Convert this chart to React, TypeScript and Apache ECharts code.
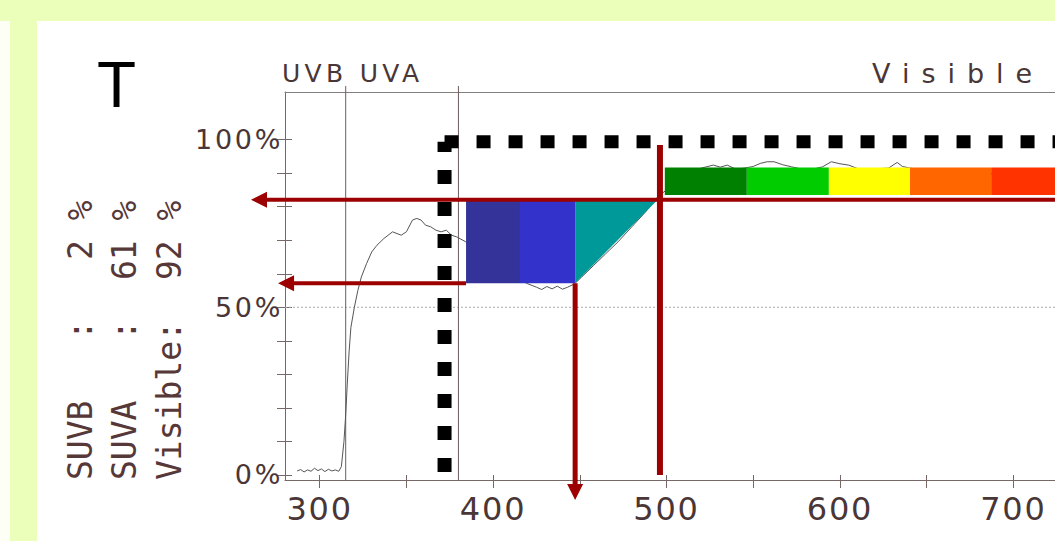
import React, { useEffect, useRef } from 'react';
import * as echarts from 'echarts';

// ---------- data ----------
const spectrum: [number, number][] = [
  [287, 1.2], [289, 1.6], [291, 0.9], [293, 1.5], [295, 1.1], [297, 2.0], [299, 1.3], [301, 1.8],
  [303, 1.0], [305, 1.7], [307, 1.2], [309, 1.5], [311, 1.1], [312.5, 2.5], [314, 10], [315, 18],
  [316, 28], [317, 37], [318, 44], [320, 50], [322, 55], [324, 59], [327, 63], [330, 66.5],
  [333, 68.5], [337, 70.5], [342, 72.5], [347, 71.5], [350, 72.5], [353.5, 76], [356, 76.5],
  [358.5, 76], [361, 74.5], [364, 74], [367, 73], [370, 72.5], [373, 73], [376, 71.5], [379, 71],
  [384, 69.6], [390, 67], [396, 64.5], [402, 62], [408, 60], [414, 58.5], [420, 57], [425, 56],
  [428, 55.3], [431, 56.2], [434, 55.5], [437, 56.3], [440, 55.4], [443, 56], [447, 57], [451, 59],
  [458, 62.5], [465, 66], [472, 69.5], [480, 74], [488, 78.5], [495, 83], [500, 85], [505, 87.5],
  [510, 89.5], [515, 90.5], [520, 91.5], [527, 92.4], [531, 91.8], [535, 92.4], [540, 91.2],
  [545, 91.5], [550, 92], [554, 92.9], [558, 93.4], [562, 93.4], [567, 92.5], [572, 91.9],
  [580, 91], [586, 91.4], [590, 91.9], [595, 93.4], [600, 92.8], [605, 92.4], [612, 91],
  [620, 91.3], [628, 91.5], [633, 93.2], [636, 92], [645, 91], [660, 90.5], [680, 90],
  [700, 89.5], [724, 89],
];

const xMin = 280;
const xMax = 724;
const yMin = -1.5;
const yMax = 114.2;
const xTickValues = [300, 350, 400, 450, 500, 550, 600, 650, 700];
const xLabelValues = [300, 400, 500, 600, 700];
const yTickValues = [0, 10, 20, 30, 40, 50, 60, 70, 80, 90, 100];
const yLabelValues = [0, 50, 100];
const gridLineValue = 50;

const bandBoundaries = [315, 380];
const bandBoundaryTop = 116;
const bandTitles = ['UVB UVA', 'Visible'];

// UV blocks: wavelength edges, transmission range
const uvBlockEdges = [384.4, 415.5, 447.3, 494.2];
const uvBlockRange = [57.2, 81.7];
// visible spectrum strip
const visBlockEdges = [499, 546.3, 593.6, 640.4, 687.2, 724];
const visBlockRange = [83.5, 91.7];

// black dotted filter outline
const filterCutoff = 372;
const filterTop = 99.4;
const filterBottom = 0.9;

// red arrows: from [nm, %] to [nm, %]
const arrowFrom: [number, number][] = [[724, 82.1], [384.4, 57.2], [447.3, 57.2], [496.2, 98.4]];
const arrowTo: [number, number][] = [[260.4, 82.1], [276, 57.2], [447.3, -7.45], [496.2, 0]];

const summaryNames = ['SUVB', 'SUVA', 'Visible'];
const summaryValues = [2, 61, 92];
const titleLetter = 'T';

// ---------- styles ----------
const AX = '#776868';
const LBL = '#4a3636';
const RED = '#9c0000';
const uvBlockColors = ['#333399', '#3333CC', '#009999'];
const visBlockColors = ['#008000', '#00CC00', '#FFFF00', '#FF6600', '#FF3300'];
const arrowWidths = [4, 4, 5, 6];
const arrowHasHead = [true, true, true, false];
const SANS = '"Liberation Sans", Arial, sans-serif';
const DJV = '"DejaVu Sans", sans-serif';
const MONO = '"DejaVu Sans Mono", monospace';

const spacingMap: Record<string, number> = {
  'UVB UVA': 4.3,
  'Visible': 12,
  '100%': 2.7,
  '50%': 2.7,
  '0%': 2.7,
  '300': 1.8,
  '400': 1.8,
  '500': 1.8,
  '600': 1.8,
  '700': 1.8,
};

function buildOption(): any {
  const uvBlocks = uvBlockColors.map((_, i) => [uvBlockEdges[i], uvBlockEdges[i + 1], uvBlockRange[0], uvBlockRange[1]]);
  const visBlocks = visBlockColors.map((_, i) => [visBlockEdges[i], visBlockEdges[i + 1], visBlockRange[0], visBlockRange[1]]);
  const arrows = arrowFrom.map((f, i) => [f[0], f[1], arrowTo[i][0], arrowTo[i][1]]);

  const rotated: any[] = [];
  const colX = [80.5, 124.5, 169.5];
  const baseY = 480;
  const adv = 20;
  summaryNames.forEach((name, i) => {
    const common = { rotation: Math.PI / 2, z: 10, silent: true };
    const st = (text: string) => ({
      text, font: `33px ${MONO}`, fill: '#573838',
      textAlign: 'left', align: 'left', textVerticalAlign: 'middle', verticalAlign: 'middle',
    });
    if (name.length >= 7) {
      rotated.push({ type: 'text', x: colX[i], y: baseY, ...common, style: st(name + ':') });
    } else {
      rotated.push({ type: 'text', x: colX[i], y: baseY, ...common, style: st(name) });
      rotated.push({ type: 'text', x: colX[i], y: baseY - 7 * adv, ...common, style: st(':') });
    }
    const v = String(summaryValues[i]);
    const idx = 12 - v.length;
    rotated.push({ type: 'text', x: colX[i], y: baseY - idx * adv, ...common, style: st(v + ' %') });
  });

  return {
    animation: false,
    backgroundColor: '#ECFFBA',
    grid: { left: 285, top: 92, right: 0, bottom: 61, containLabel: false },
    xAxis: [
      {
        type: 'value', min: xMin, max: xMax, position: 'bottom',
        axisLine: { show: true, onZero: false, lineStyle: { color: AX, width: 1 } },
        axisTick: { show: true, customValues: xTickValues, length: 8, lineStyle: { color: AX, width: 1 } },
        axisLabel: { show: true, customValues: xLabelValues, margin: 13, fontSize: 32, fontFamily: DJV, color: LBL },
        splitLine: { show: false },
      },
      {
        type: 'value', min: xMin, max: xMax, position: 'top',
        axisLine: { show: true, onZero: false, lineStyle: { color: '#858080', width: 1 } },
        axisTick: { show: false }, axisLabel: { show: false }, splitLine: { show: false },
      },
      {
        type: 'value', min: xMin, max: xMax, position: 'bottom',
        axisLine: { show: false, onZero: false },
        axisTick: { show: true, inside: true, customValues: xTickValues, length: 5, lineStyle: { color: AX, width: 1 } },
        axisLabel: { show: false }, splitLine: { show: false },
      },
    ],
    yAxis: [
      {
        type: 'value', min: yMin, max: yMax, position: 'left',
        axisLine: { show: true, onZero: false, lineStyle: { color: AX, width: 1 } },
        axisTick: { show: true, customValues: yTickValues, length: 8, lineStyle: { color: AX, width: 1 } },
        axisLabel: { show: true, customValues: yLabelValues, formatter: '{value}%', margin: 2, fontSize: 27, fontFamily: DJV, color: LBL },
        splitLine: { show: false },
      },
      {
        type: 'value', min: yMin, max: yMax, position: 'left',
        axisLine: { show: false, onZero: false },
        axisTick: { show: true, inside: true, customValues: yTickValues, length: 7, lineStyle: { color: AX, width: 1 } },
        axisLabel: { show: false }, splitLine: { show: false },
      },
    ],
    graphic: [
      { type: 'rect', z: -10, silent: true, shape: { x: 0, y: 21, width: 10, height: 520 }, style: { fill: '#FDFFF7' } },
      { type: 'rect', z: -10, silent: true, shape: { x: 37, y: 21, width: 1018, height: 520 }, style: { fill: '#FFFFFF' } },
      {
        type: 'text', x: 116.5, y: 85, z: 10, silent: true,
        style: { text: titleLetter, font: `64px ${SANS}`, fill: '#000', textAlign: 'center', align: 'center', textVerticalAlign: 'middle', verticalAlign: 'middle' },
      },
      {
        type: 'text', x: 282, y: 73.5, z: 10, silent: true,
        style: { text: bandTitles[0], font: `25px ${DJV}`, fill: LBL, textAlign: 'left', align: 'left', textVerticalAlign: 'middle', verticalAlign: 'middle' },
      },
      {
        type: 'text', x: 872, y: 73, z: 10, silent: true,
        style: { text: bandTitles[1], font: `27px ${DJV}`, fill: LBL, textAlign: 'left', align: 'left', textVerticalAlign: 'middle', verticalAlign: 'middle' },
      },
      ...rotated,
    ],
    series: [
      {
        type: 'line', name: 'grid50', silent: true, symbol: 'none', z: 1,
        data: [[xMin, gridLineValue], [xMax, gridLineValue]],
        lineStyle: { color: '#aaa', width: 1, type: [2, 2] },
      },
      ...bandBoundaries.map((b) => ({
        type: 'line', silent: true, symbol: 'none', z: 1, clip: false,
        data: [[b, yMin], [b, bandBoundaryTop]],
        lineStyle: { color: '#6d5d5d', width: 1 },
      })),
      {
        type: 'line', name: 'transmission', silent: true, symbol: 'none', z: 2,
        data: spectrum,
        lineStyle: { color: '#555', width: 1 },
      },
      {
        type: 'custom', silent: true, z: 3, clip: false,
        data: uvBlocks,
        renderItem: (params: any, api: any) => {
          const x0 = api.value(0), x1 = api.value(1), y0 = api.value(2), y1 = api.value(3);
          const p0 = api.coord([x0, y1]);
          const p1 = api.coord([x1, y0]);
          const fill = uvBlockColors[params.dataIndex];
          if (params.dataIndex === uvBlockColors.length - 1) {
            return { type: 'polygon', shape: { points: [[p0[0], p0[1]], [p1[0], p0[1]], [p0[0], p1[1]]] }, style: { fill } };
          }
          return { type: 'rect', shape: { x: p0[0], y: p0[1], width: p1[0] - p0[0], height: p1[1] - p0[1] }, style: { fill } };
        },
      },
      {
        type: 'custom', silent: true, z: 3, clip: false,
        data: visBlocks,
        renderItem: (params: any, api: any) => {
          const p0 = api.coord([api.value(0), api.value(3)]);
          const p1 = api.coord([api.value(1), api.value(2)]);
          return { type: 'rect', shape: { x: p0[0], y: p0[1], width: p1[0] - p0[0], height: p1[1] - p0[1] }, style: { fill: visBlockColors[params.dataIndex] } };
        },
      },
      {
        type: 'line', silent: true, symbol: 'none', z: 4, clip: false,
        data: [[filterCutoff, filterBottom], [filterCutoff, filterTop]],
        lineStyle: { color: '#000', width: 14, type: [14, 18], cap: 'butt' },
      },
      {
        type: 'line', silent: true, symbol: 'none', z: 4, clip: false,
        data: [[filterCutoff, filterTop], [xMax, filterTop]],
        lineStyle: { color: '#000', width: 13, type: [14, 18], cap: 'butt' },
      },
      {
        type: 'custom', silent: true, z: 5, clip: false,
        data: arrows,
        renderItem: (params: any, api: any) => {
          const a = api.coord([api.value(0), api.value(1)]);
          const b = api.coord([api.value(2), api.value(3)]);
          const i = params.dataIndex;
          const w = arrowWidths[i];
          const head = arrowHasHead[i];
          const dx = b[0] - a[0], dy = b[1] - a[1];
          const len = Math.hypot(dx, dy) || 1;
          const ux = dx / len, uy = dy / len;
          const hl = 16, hw = 8;
          const end = head ? [b[0] - ux * hl * 0.8, b[1] - uy * hl * 0.8] : b;
          const children: any[] = [
            { type: 'line', shape: { x1: a[0], y1: a[1], x2: end[0], y2: end[1] }, style: { stroke: RED, lineWidth: w } },
          ];
          if (head) {
            children.push({
              type: 'polygon',
              shape: { points: [
                [b[0], b[1]],
                [b[0] - ux * hl - uy * hw, b[1] - uy * hl + ux * hw],
                [b[0] - ux * hl + uy * hw, b[1] - uy * hl - ux * hw],
              ] },
              style: { fill: RED },
            });
          }
          return { type: 'group', children };
        },
      },
    ],
  };
}

export default function App() {
  const ref = useRef<HTMLDivElement>(null);
  useEffect(() => {
    const el = ref.current;
    if (!el) return;
    const chart = echarts.init(el, undefined, { renderer: 'svg' });
    const applySpacing = () => {
      el.querySelectorAll('text').forEach((t) => {
        const s = spacingMap[(t.textContent || '').trim()];
        if (s) t.setAttribute('letter-spacing', `${s}px`);
      });
    };
    chart.on('finished', applySpacing);
    chart.setOption(buildOption());
    applySpacing();
    return () => {
      chart.dispose();
    };
  }, []);
  return <div ref={ref} style={{ position: 'fixed', left: 0, top: 0, width: 1055, height: 541 }} />;
}
